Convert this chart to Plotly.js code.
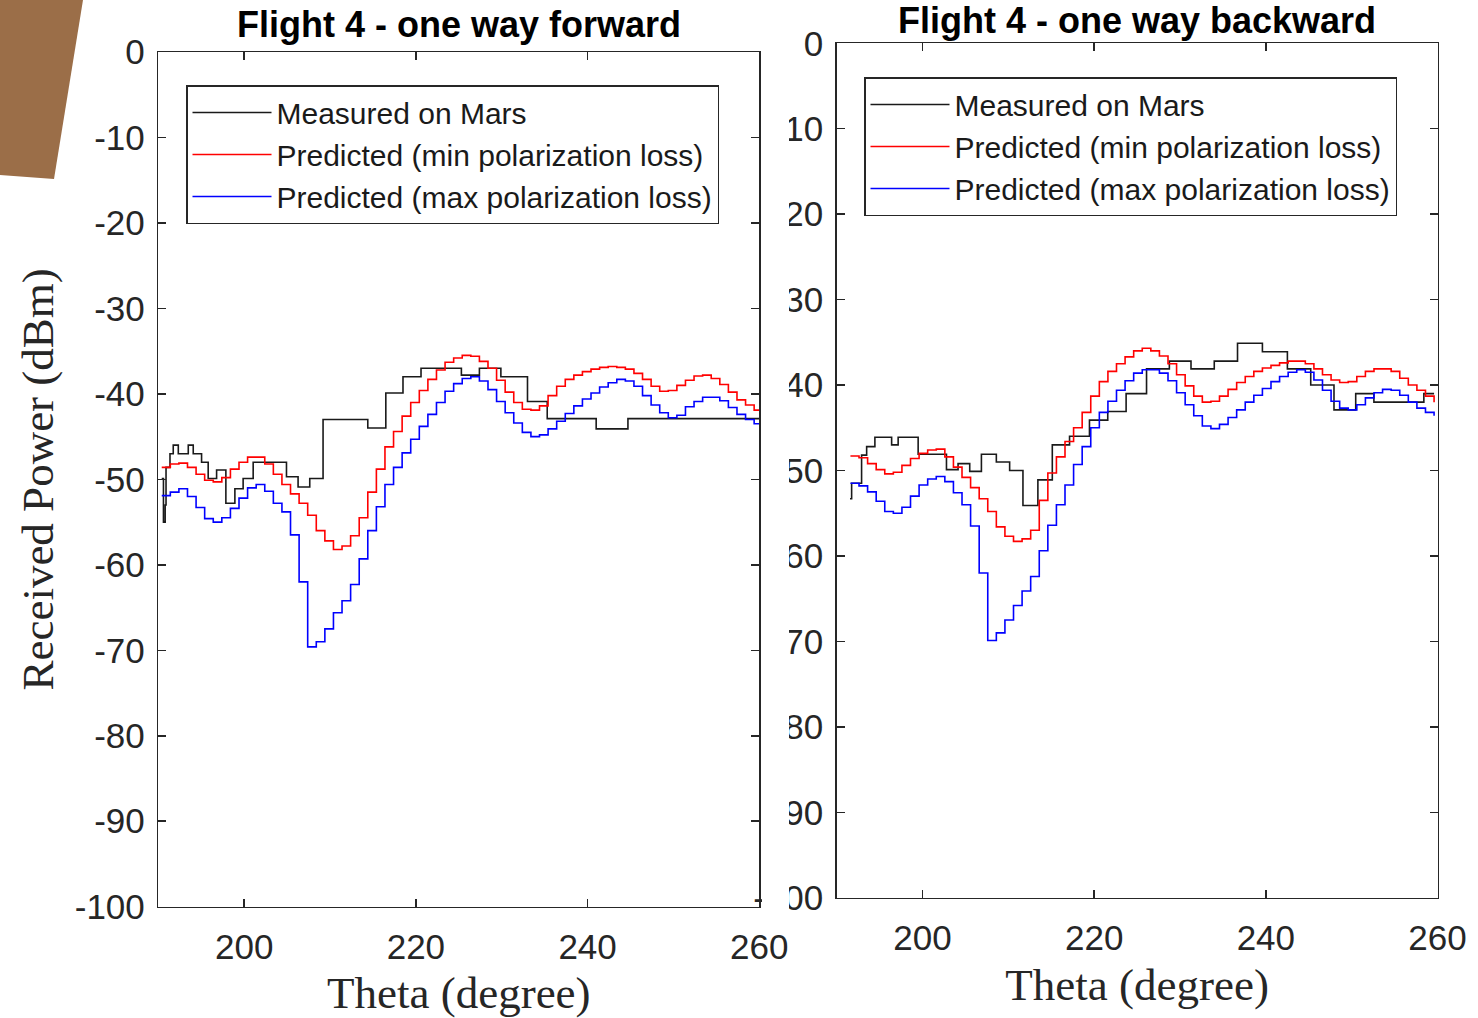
<!DOCTYPE html>
<html>
<head>
<meta charset="utf-8">
<script src="https://cdn.plot.ly/plotly-3.0.1.min.js"></script>
<style>
html,body{margin:0;padding:0;background:#ffffff;}
#chart{width:1478px;height:1018px;}
</style>
</head>
<body>
<div id="chart"></div>
<script>
// ---------- DATA ----------
const panelTitles = ['Flight 4 - one way forward', 'Flight 4 - one way backward'];
const seriesNames = ['Measured on Mars', 'Predicted (min polarization loss)', 'Predicted (max polarization loss)'];
const xAxisTitle = 'Theta (degree)';
const yAxisTitle = 'Received Power (dBm)';

const xTickVals = [200, 220, 240, 260];
const yTickVals = [-100, -90, -80, -70, -60, -50, -40, -30, -20, -10, 0];
const yTickText = ['-100', '-90', '-80', '-70', '-60', '-50', '-40', '-30', '-20', '-10', '0'];

// Forward flight: predicted curves (theta in degree, power in dBm)
const fwdThetaPred = [190.4,191.4,192.4,193.4,194.4,195.4,196.4,197.4,198.4,199.4,
  200.4,201.4,202.4,203.4,204.4,205.4,206.4,207.4,208.4,209.4,
  210.4,211.4,212.4,213.4,214.4,215.4,216.4,217.4,218.4,219.4,
  220.4,221.4,222.4,223.4,224.4,225.4,226.4,227.4,228.4,229.4,
  230.4,231.4,232.4,233.4,234.4,235.4,236.4,237.4,238.4,239.4,
  240.4,241.4,242.4,243.4,244.4,245.4,246.4,247.4,248.4,249.4,
  250.4,251.4,252.4,253.4,254.4,255.4,256.4,257.4,258.4,259.4,260];
const fwdMinPol = [-48.6,-48.2,-48.1,-48.6,-49.4,-50.1,-50.3,-49.8,-48.8,-48.0,
  -47.4,-47.4,-48.2,-49.4,-50.6,-51.7,-52.8,-54.2,-56.0,-57.2,
  -58.2,-57.8,-56.6,-54.5,-51.5,-48.8,-46.2,-44.4,-42.6,-41.0,
  -39.6,-38.3,-37.2,-36.3,-35.8,-35.5,-35.6,-36.2,-37.0,-38.4,
  -39.8,-41.0,-41.8,-41.9,-41.4,-40.2,-39.1,-38.3,-37.8,-37.4,
  -37.1,-36.9,-36.8,-36.9,-37.1,-37.6,-38.3,-39.1,-39.7,-39.6,
  -39.0,-38.4,-37.9,-37.8,-38.2,-38.9,-39.8,-40.7,-41.3,-41.9,-41.9];
const fwdMaxPol = [-51.9,-51.5,-51.1,-52.0,-53.3,-54.6,-55.0,-54.5,-53.4,-52.2,
  -51.0,-50.6,-51.4,-52.8,-53.8,-56.5,-62.0,-69.6,-69.0,-67.5,
  -65.6,-64.2,-62.3,-59.3,-56.0,-53.2,-50.6,-48.6,-46.9,-45.3,
  -43.8,-42.4,-41.0,-39.7,-38.8,-38.2,-38.0,-38.5,-39.5,-40.9,
  -42.2,-43.4,-44.5,-45.0,-44.8,-44.1,-43.2,-42.3,-41.4,-40.6,
  -39.9,-39.2,-38.7,-38.3,-38.5,-39.1,-40.2,-41.3,-42.2,-42.8,
  -42.5,-41.5,-40.9,-40.4,-40.4,-40.8,-41.6,-42.4,-43.0,-43.5,-43.5];
// Forward flight: measured (step changes)
const fwdThetaMeas = [190.4,190.5,190.6,190.8,190.9,191.36,191.74,192.33,193.49,194.07,
  195.04,195.81,196.79,197.87,198.92,199.88,201.05,204.93,206.28,207.64,
  209.19,214.4,216.5,218.5,220.6,225.3,227.4,229.9,233.0,235.3,241.0,244.7,260];
const fwdMeasured = [-49.9,-49.9,-55.0,-53.0,-48.6,-47.0,-46.0,-47.0,-46.0,-47.0,
  -48.0,-49.9,-48.9,-52.8,-51.1,-49.9,-48.0,-49.7,-50.9,-49.9,
  -43.0,-44.0,-39.9,-38.0,-37.0,-37.8,-37.0,-38.0,-40.9,-42.9,-44.1,-42.9,-42.9];

// Backward flight: predicted curves
const bwdThetaPred = [191.6,192.6,193.6,194.6,195.6,196.6,197.6,198.6,199.6,
  200.6,201.6,202.6,203.6,204.6,205.6,206.6,207.6,208.6,209.6,
  210.6,211.6,212.6,213.6,214.6,215.6,216.6,217.6,218.6,219.6,
  220.6,221.6,222.6,223.6,224.6,225.6,226.6,227.6,228.6,229.6,
  230.6,231.6,232.6,233.6,234.6,235.6,236.6,237.6,238.6,239.6,
  240.6,241.6,242.6,243.6,244.6,245.6,246.6,247.6,248.6,249.6,
  250.6,251.6,252.6,253.6,254.6,255.6,256.6,257.6,258.6,259.6];
const bwdMinPol = [-48.3,-48.5,-49.2,-49.9,-50.4,-50.2,-49.4,-48.6,-48.0,
  -47.6,-47.5,-48.4,-49.6,-50.8,-52.0,-53.3,-54.8,-56.6,-57.7,
  -58.3,-58.0,-57.0,-53.5,-50.3,-48.4,-46.6,-45.0,-43.2,-41.3,
  -39.6,-38.4,-37.5,-36.7,-36.0,-35.7,-36.0,-36.6,-37.5,-38.8,
  -40.1,-41.3,-42.0,-41.9,-41.3,-40.5,-39.7,-39.0,-38.4,-38.0,
  -37.7,-37.4,-37.2,-37.2,-37.5,-38.1,-38.8,-39.4,-39.7,-39.6,
  -39.0,-38.4,-38.1,-38.1,-38.4,-39.2,-40.0,-40.6,-41.3,-42.0];
const bwdMaxPol = [-51.5,-51.8,-52.5,-53.6,-54.8,-55.0,-54.3,-53.0,-51.7,
  -51.0,-50.7,-51.3,-52.6,-54.0,-56.5,-62.0,-69.9,-69.0,-67.5,
  -65.8,-64.1,-62.4,-59.4,-56.4,-54.0,-51.7,-49.3,-47.2,-45.0,
  -43.2,-41.9,-40.6,-39.5,-38.6,-38.2,-38.2,-38.6,-39.5,-40.9,
  -42.3,-43.6,-44.8,-45.1,-44.6,-43.8,-42.9,-42.0,-41.2,-40.4,
  -39.6,-39.0,-38.5,-38.2,-38.5,-39.4,-40.6,-41.9,-42.7,-42.9,
  -42.3,-41.5,-40.9,-40.5,-40.6,-41.2,-42.0,-42.7,-43.2,-43.6];
// Backward flight: measured (step changes)
const bwdThetaMeas = [191.55,191.74,192.9,193.49,194.45,196.4,197.16,199.49,202.79,204.14,
  205.5,206.86,208.6,210.15,211.7,213.44,215.12,217.13,219.45,221.58,
  223.72,226.1,228.76,231.28,233.99,236.7,239.6,242.51,245.23,247.94,
  250.47,252.59,258.41,259.6];
const bwdMeasured = [-53.3,-51.5,-48.2,-47.2,-46.1,-47.0,-46.1,-48.1,-49.9,-49.2,
  -50.1,-48.1,-49.0,-50.0,-54.1,-51.1,-47.0,-46.0,-44.1,-43.1,
  -41.0,-38.1,-37.2,-38.1,-37.2,-35.1,-36.1,-38.1,-40.0,-42.9,
  -41.0,-42.0,-41.0,-41.0];

// ---------- STYLE ----------
const SANS = 'Liberation Sans, Arial, Helvetica, sans-serif';
const SERIF = 'Liberation Serif, Times New Roman, serif';
const AX = '#262626';
const colors = ['#1a1a1a', '#ff0000', '#0000ff'];
const W = 1478, H = 1018;
const px = v => v / W;
const py = v => 1 - v / H;

function mk(x, y, i, xa, ya, leg) {
  return {
    x: x, y: y, type: 'scatter', mode: 'lines', name: seriesNames[i],
    line: {color: colors[i], width: 1.6, shape: 'hv'},
    xaxis: xa, yaxis: ya, legend: leg, showlegend: true, hoverinfo: 'skip'
  };
}

const traces = [
  mk(fwdThetaMeas, fwdMeasured, 0, 'x', 'y', 'legend'),
  mk(fwdThetaPred, fwdMinPol, 1, 'x', 'y', 'legend'),
  mk(fwdThetaPred, fwdMaxPol, 2, 'x', 'y', 'legend'),
  mk(bwdThetaMeas, bwdMeasured, 0, 'x2', 'y2', 'legend2'),
  mk(bwdThetaPred, bwdMinPol, 1, 'x2', 'y2', 'legend2'),
  mk(bwdThetaPred, bwdMaxPol, 2, 'x2', 'y2', 'legend2')
];

function xAxis(dom, anchor) {
  return {
    domain: dom, anchor: anchor, range: [190, 260], tickvals: xTickVals,
    ticks: 'inside', ticklen: 8, tickwidth: 1.5, tickcolor: AX,
    showline: true, linecolor: AX, linewidth: 1.5, mirror: 'ticks',
    showgrid: false, zeroline: false, fixedrange: true,
    tickfont: {family: SANS, size: 35, color: AX}, ticklabelstandoff: 9,
    title: {text: xAxisTitle, font: {family: SERIF, size: 45, color: AX}, standoff: 12}
  };
}
function yAxis(dom, anchor, withTitle) {
  const a = {
    domain: dom, anchor: anchor, range: [-100, 0], tickvals: yTickVals, ticktext: yTickText,
    ticks: 'inside', ticklen: 8, tickwidth: 1.5, tickcolor: AX,
    showline: true, linecolor: AX, linewidth: 1.5, mirror: 'ticks',
    showgrid: false, zeroline: false, fixedrange: true,
    tickfont: {family: SANS, size: 35, color: AX}, ticklabelstandoff: 5
  };
  if (withTitle) a.title = {text: yAxisTitle, font: {family: SERIF, size: 45, color: AX}, standoff: 7};
  return a;
}
function legendBox(x, y) {
  return {
    x: x, y: y, xanchor: 'left', yanchor: 'top', xref: 'paper', yref: 'paper',
    bgcolor: '#ffffff', bordercolor: AX, borderwidth: 1.5,
    font: {family: SANS, size: 30, color: '#1a1a1a'},
    itemwidth: 79, tracegroupgap: 0, traceorder: 'normal'
  };
}

const layout = {
  width: W, height: H, margin: {l: 0, r: 0, t: 0, b: 0, pad: 0},
  paper_bgcolor: '#ffffff', plot_bgcolor: '#ffffff',
  font: {family: SANS, color: AX},
  showlegend: true,
  xaxis: xAxis([px(158.3), px(759.3)], 'y'),
  yaxis: yAxis([py(906.7), py(52)], 'x', true),
  xaxis2: xAxis([px(836.7), px(1437.5)], 'y2'),
  yaxis2: yAxis([py(897.7), py(43.3)], 'x2', false),
  legend: legendBox(px(186), py(85)),
  legend2: legendBox(px(864), py(77)),
  annotations: [
    {text: panelTitles[0], xref: 'paper', yref: 'paper', x: px(459), y: py(24), xanchor: 'center', yanchor: 'middle',
     showarrow: false, font: {family: SANS, size: 36, color: '#000000', weight: 'bold'}},
    {text: panelTitles[1], xref: 'paper', yref: 'paper', x: px(1137), y: py(21), xanchor: 'center', yanchor: 'middle',
     showarrow: false, font: {family: SANS, size: 36, color: '#000000', weight: 'bold'}}
  ],
  shapes: [
    {type: 'path', xref: 'paper', yref: 'paper', layer: 'above',
     path: 'M 0 1 L ' + px(83) + ' 1 L ' + px(54) + ' ' + py(179) + ' L 0 ' + py(175) + ' Z',
     fillcolor: '#9b6e48', line: {width: 0}},
    {type: 'rect', xref: 'paper', yref: 'paper', layer: 'above',
     x0: px(762), x1: px(789), y0: py(922), y1: py(25),
     fillcolor: '#ffffff', line: {width: 0}}
  ]
};

Plotly.newPlot('chart', traces, layout, {displayModeBar: false, staticPlot: true});
</script>
</body>
</html>
